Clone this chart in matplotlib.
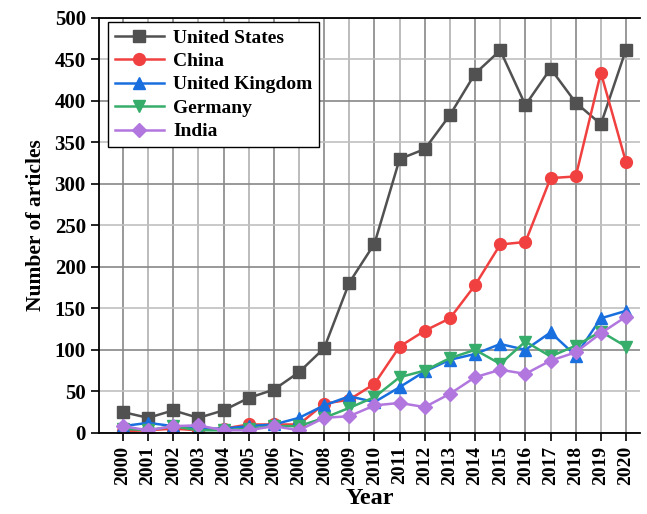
import matplotlib.pyplot as plt

years = list(range(2000, 2021))

usa = [25, 18, 27, 18, 27, 42, 52, 73, 102, 181, 228, 330, 342, 383, 433, 461, 395, 439, 398, 372, 462]
china = [2, 3, 5, 3, 5, 10, 10, 10, 35, 40, 59, 104, 123, 138, 178, 227, 230, 307, 309, 434, 326]
uk = [8, 12, 8, 5, 5, 8, 10, 18, 33, 44, 37, 55, 74, 88, 95, 107, 100, 121, 93, 138, 147]
germany = [5, 3, 8, 3, 3, 5, 8, 8, 18, 30, 43, 67, 75, 90, 100, 83, 110, 92, 105, 122, 104]
india = [8, 3, 8, 9, 3, 3, 8, 3, 18, 20, 33, 36, 31, 47, 67, 76, 71, 87, 97, 120, 140]

series = [
    ('United States', usa, '#515151', 's'),
    ('China', china, '#F14040', 'o'),
    ('United Kingdom', uk, '#1A6FDF', '^'),
    ('Germany', germany, '#37AD6B', 'v'),
    ('India', india, '#B177DE', 'D'),
]

plt.rcParams['font.family'] = 'Liberation Serif'
plt.rcParams['font.weight'] = 'bold'

fig = plt.figure(figsize=(6.47, 5.14), dpi=100)
ax = fig.add_axes([0.153, 0.158, 0.836, 0.807])

for name, vals, color, marker in series:
    ms = 7 if marker == 'D' else 8.5
    ax.plot(years, vals, color=color, marker=marker, markersize=ms, linewidth=1.8, label=name)

ax.set_xlim(1999.05, 2020.55)
ax.set_ylim(0, 500)
ax.set_xticks(years)
ax.set_xticklabels([str(y) for y in years], rotation=90, fontsize=14, fontweight='bold')
ax.set_yticks(range(0, 501, 50))
ax.tick_params(axis='both', direction='out', length=6, width=1.2)
ax.tick_params(axis='y', labelsize=15)
for lbl in ax.get_yticklabels():
    lbl.set_fontweight('bold')

ax.grid(True, color='#999999', linewidth=1.2)
for i, gl in enumerate(ax.get_ygridlines()):
    gl.set_color('#888888' if i % 2 == 0 else '#c0c0c0')
for i, gl in enumerate(ax.get_xgridlines()):
    gl.set_color('#888888' if i % 2 == 0 else '#b0b0b0')
ax.set_axisbelow(True)
ax.spines['right'].set_visible(False)
for s in ['left', 'bottom', 'top']:
    ax.spines[s].set_linewidth(1.3)

ax.set_xlabel('Year', fontsize=17.5, fontweight='bold', labelpad=2)
ax.set_ylabel('Number of articles', fontsize=15.5, fontweight='bold', labelpad=6)

leg = ax.legend(loc='upper left', fontsize=14, frameon=True, fancybox=False,
                edgecolor='black', framealpha=1, handlelength=2.5,
                borderpad=0.35, labelspacing=0.3, handletextpad=0.5,
                borderaxespad=0, bbox_to_anchor=(0.017, 0.99))
leg.get_frame().set_linewidth(1.0)

fig.savefig('out.png', dpi=100)
